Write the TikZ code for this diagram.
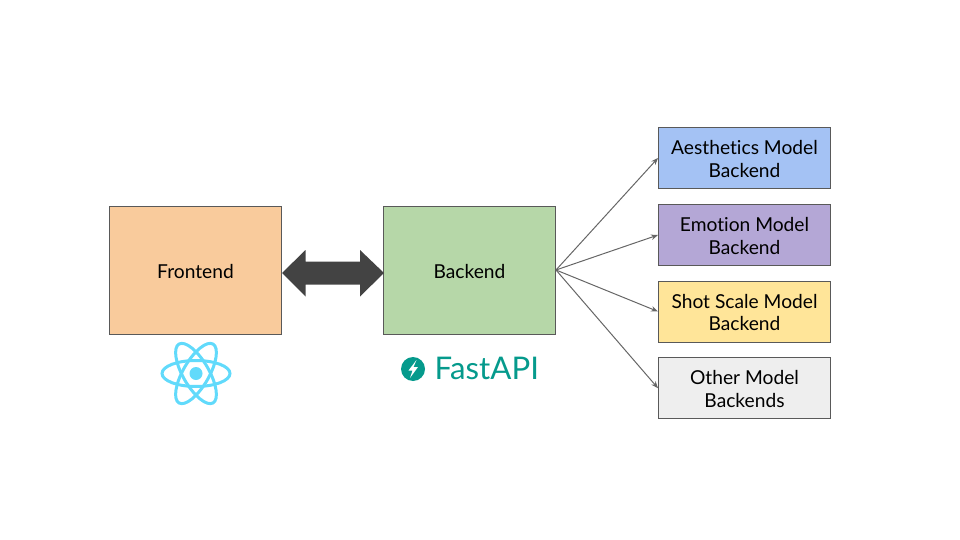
\documentclass[tikz,border=0pt]{standalone}
\usepackage{fontspec}
\setmainfont{Lato}[Ligatures=NoCommon]
\usetikzlibrary{arrows.meta}
\definecolor{edgegrey}{HTML}{595959}
\definecolor{linkgrey}{HTML}{434343}
\definecolor{fanline}{HTML}{666666}
\definecolor{orangefill}{HTML}{F9CB9C}
\definecolor{greenfill}{HTML}{B6D7A8}
\definecolor{bluefill}{HTML}{A4C2F4}
\definecolor{purplefill}{HTML}{B4A7D6}
\definecolor{yellowfill}{HTML}{FFE599}
\definecolor{greyfill}{HTML}{EEEEEE}
\definecolor{reactblue}{HTML}{61DAFB}
\definecolor{fastteal}{HTML}{059A8C}
\newcommand{\firstline}{\rule{0pt}{16pt}}
\newcommand{\onlyline}{\rule{0pt}{17.5pt}}
\tikzset{
  box/.style={draw=edgegrey,line width=1pt,align=center,inner sep=0pt,text=black,
    font=\fontsize{19.2}{22.5}\selectfont},
  bigbox/.style={box,minimum width=172pt,minimum height=128pt},
  modelbox/.style={box,minimum width=172pt,minimum height=61pt},
  fan/.style={draw=fanline,line width=1pt,-{Stealth[length=7pt,width=5.5pt]},shorten >=0pt},
  orbit/.style={draw=reactblue,line width=3pt},
}
\begin{document}
\begin{tikzpicture}[x=1pt,y=-1pt]
\useasboundingbox (0,0) rectangle (960,540);
\node[bigbox,fill=orangefill] (front) at (195.5,270) {\onlyline Frontend};
\node[bigbox,fill=greenfill] (back) at (469.5,270) {\onlyline Backend};
\node[modelbox,fill=bluefill] (aes) at (744.5,158) {\firstline Aesthetics Model\\Backend};
\node[modelbox,fill=purplefill] (emo) at (744.5,235) {\firstline Emotion Model\\Backend};
\node[modelbox,fill=yellowfill] (shot) at (744.5,311.5) {\firstline Shot Scale Model\\Backend};
\node[modelbox,fill=greyfill] (other) at (744.5,388.2) {\firstline Other Model\\Backends};
% double arrow
\fill[linkgrey] (282,273) -- (305.5,250) -- (305.5,261.5) -- (360,261.5) -- (360,250) -- (384,273)
  -- (360,296.5) -- (360,284.5) -- (305.5,284.5) -- (305.5,296.5) -- cycle;
% fan
\foreach \t in {aes,emo,shot,other} \draw[fan] (back.east) -- (\t.west);
% React logo
\begin{scope}[shift={(196,373.5)}]
  \foreach \a in {0,60,120} \draw[orbit,rotate=\a] (0,0) ellipse [x radius=34,y radius=13];
  \fill[reactblue] (0,0) circle [radius=6.5];
\end{scope}
% FastAPI logo
\begin{scope}[shift={(413,369)}]
  \fill[fastteal] (0,0) circle [radius=12];
  \fill[white] (3.5,-9) -- (-4.5,1.5) -- (-0.5,1.5) -- (-3,9) -- (5,-2) -- (0.5,-2) -- cycle;
\end{scope}
\node[anchor=base west,inner sep=0pt,text=fastteal,font=\fontsize{31.2}{32}\selectfont] (fastapi) at (434.5,379.5) {FastAPI};
\end{tikzpicture}
\end{document}
